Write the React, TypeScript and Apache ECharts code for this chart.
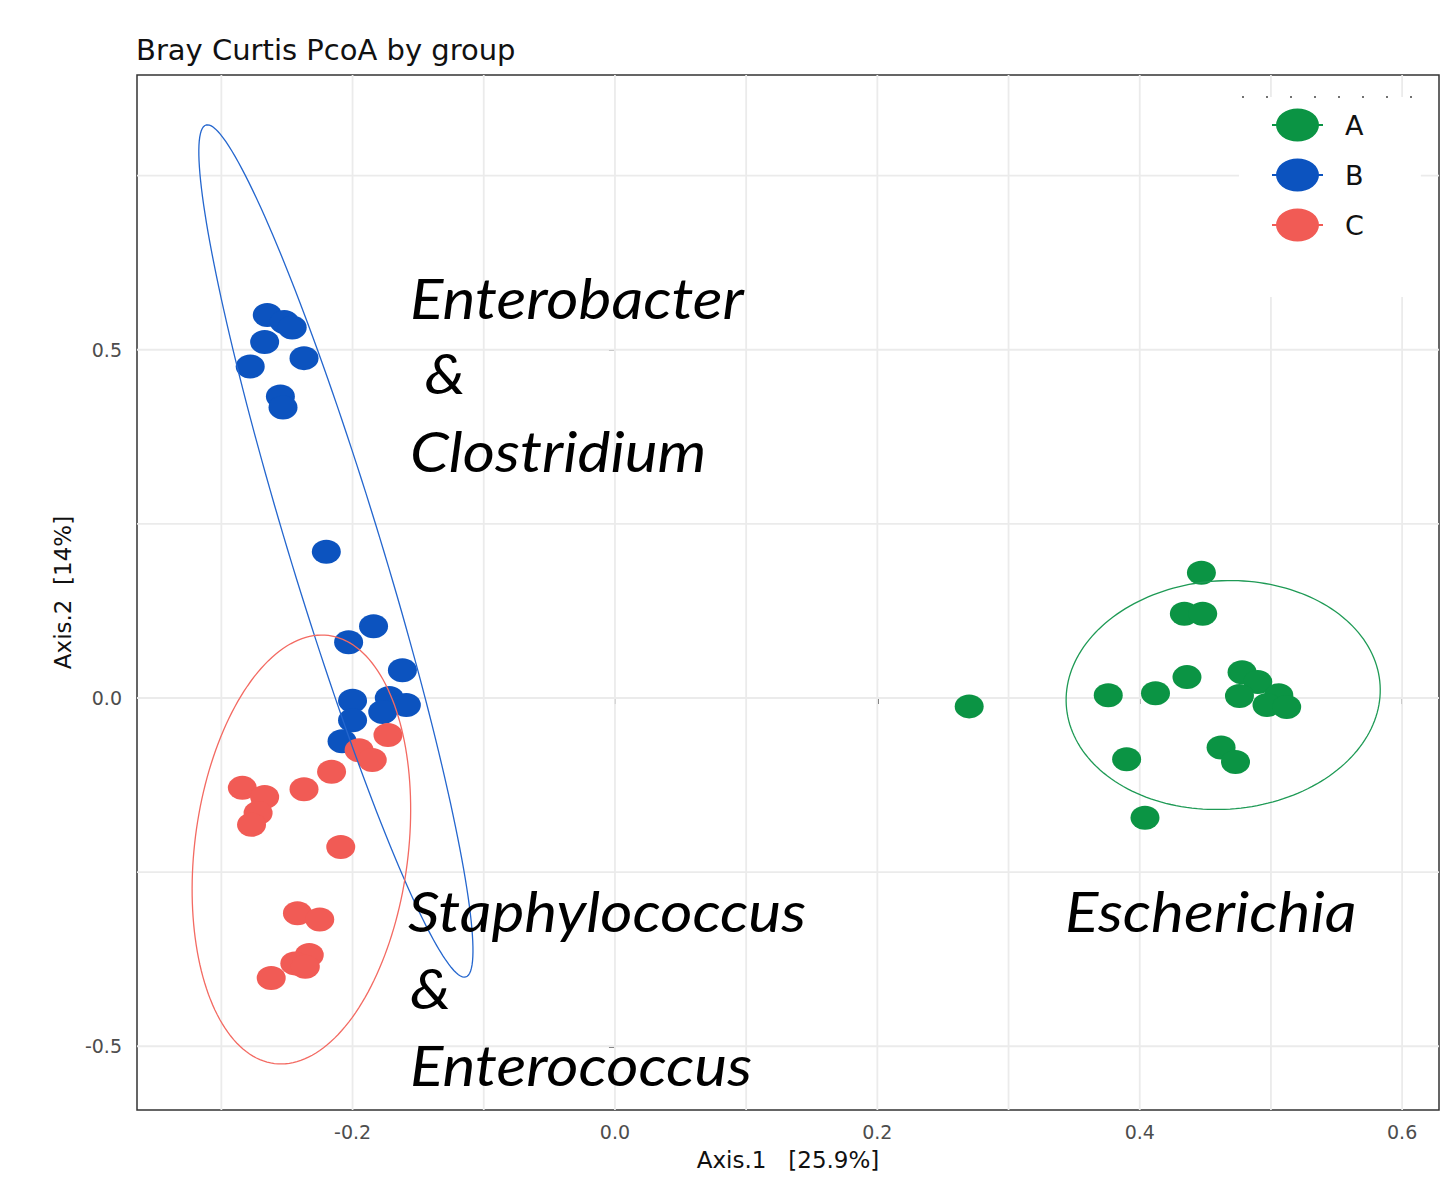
import React, { useEffect, useRef } from "react";
import * as echarts from "echarts";

// ---- data ----
const groupNames = ["A", "B", "C"];

const pointsA: number[][] = [
  [0.447, 0.18], [0.434, 0.121], [0.448, 0.121], [0.27, -0.012], [0.376, 0.004],
  [0.412, 0.007], [0.436, 0.03], [0.478, 0.037], [0.49, 0.023], [0.476, 0.003],
  [0.506, 0.004], [0.497, -0.01], [0.512, -0.013], [0.462, -0.071], [0.473, -0.092],
  [0.39, -0.088], [0.404, -0.172],
];

const pointsB: number[][] = [
  [-0.265, 0.55], [-0.252, 0.54], [-0.246, 0.532], [-0.267, 0.511], [-0.237, 0.488],
  [-0.278, 0.476], [-0.255, 0.433], [-0.253, 0.417], [-0.22, 0.21], [-0.184, 0.103],
  [-0.203, 0.08], [-0.162, 0.04], [-0.2, -0.004], [-0.2, -0.032], [-0.172, 0.0],
  [-0.159, -0.01], [-0.177, -0.02], [-0.208, -0.062],
];

const pointsC: number[][] = [
  [-0.173, -0.053], [-0.195, -0.075], [-0.185, -0.089], [-0.216, -0.106], [-0.237, -0.131],
  [-0.284, -0.129], [-0.267, -0.142], [-0.272, -0.165], [-0.277, -0.182], [-0.209, -0.214],
  [-0.242, -0.309], [-0.225, -0.318], [-0.233, -0.369], [-0.244, -0.381], [-0.236, -0.386],
  [-0.262, -0.402],
];

// ellipse: [centerX, centerY, semiAxis1X, semiAxis1Y, semiAxis2X, semiAxis2Y] (data units)
const ellipseA: number[] = [0.4636, 0.0043, 0.1196, 0.0144, 0.0053, -0.1637];
const ellipseB: number[] = [-0.2127, 0.2111, -0.099, 0.6116, 0.0334, 0.0192];
const ellipseC: number[] = [-0.239, -0.2175, 0.0206, 0.3073, 0.0807, -0.0192];

const xTickValues = [-0.2, 0.0, 0.2, 0.4, 0.6];
const yTickValues = [-0.5, 0.0, 0.5];
const xGridValues = [-0.3, -0.2, -0.1, 0.0, 0.1, 0.2, 0.3, 0.4, 0.5, 0.6];
const yGridValues = [-0.5, -0.25, 0.0, 0.25, 0.5, 0.75];

const xRange = [-0.3643, 0.6281];
const yRange = [-0.5915, 0.8945];

const titleText = "Bray Curtis PcoA by group";
const xTitle = "Axis.1   [25.9%]";
const yTitle = "Axis.2  [14%]";

const annotations = [
  { text: "Enterobacter", x: 410, y: 298 },
  { text: " &", x: 410, y: 373 },
  { text: "Clostridium", x: 410, y: 451 },
  { text: "Staphylococcus", x: 408, y: 911 },
  { text: "&", x: 410, y: 988 },
  { text: "Enterococcus", x: 410, y: 1065 },
  { text: "Escherichia", x: 1065, y: 911 },
];

const pointColors = ["#0B9444", "#0C53BF", "#F15B55"];
const ellipseColors = ["#1E9A55", "#2466CE", "#F36A62"];

const pointSymbol = "path://M0,12A14.5,12 0 1,1 29,12A14.5,12 0 1,1 0,12Z";
const legendIcon =
  "path://M0,15.5L51,15.5L51,17.5L0,17.5Z M4,16.5A21.5,16.5 0 1,1 47,16.5A21.5,16.5 0 1,1 4,16.5Z";

function ellipseSeries(name: string, e: number[], color: string) {
  return {
    name: name + "-ellipse",
    type: "custom",
    z: 3,
    silent: true,
    data: [e],
    renderItem: (params: any, api: any) => {
      const cx = api.value(0), cy = api.value(1);
      const ax = api.value(2), ay = api.value(3);
      const bx = api.value(4), by = api.value(5);
      const pts: number[][] = [];
      const n = 180;
      for (let i = 0; i < n; i++) {
        const t = (i / n) * Math.PI * 2;
        const c = Math.cos(t), s = Math.sin(t);
        pts.push(api.coord([cx + ax * c + bx * s, cy + ay * c + by * s]));
      }
      return {
        type: "polygon",
        shape: { points: pts },
        style: { fill: "none", stroke: color, lineWidth: 1.3 },
      };
    },
  };
}

export default function App() {
  const ref = useRef<HTMLDivElement>(null);

  useEffect(() => {
    if (!ref.current) return;
    const chart = echarts.init(ref.current, undefined, { renderer: "svg" });
    const pointSets = [pointsA, pointsB, pointsC];
    const ellipses = [ellipseA, ellipseB, ellipseC];

    const option: any = {
      animation: false,
      backgroundColor: "#ffffff",
      title: {
        text: titleText,
        left: 136,
        top: 33,
        padding: 0,
        textStyle: {
          fontFamily: "DejaVu Sans",
          fontWeight: "normal",
          fontSize: 29,
          lineHeight: 34,
          color: "#111",
        },
      },
      grid: {
        left: 137,
        top: 75,
        width: 1302,
        height: 1035,
        show: true,
        borderColor: "#333",
        borderWidth: 1.5,
        backgroundColor: "#fff",
        containLabel: false,
      },
      legend: {
        left: 1239,
        top: 97,
        orient: "vertical",
        padding: [11.5, 57, 55.5, 33],
        backgroundColor: "#ffffff",
        itemWidth: 51,
        itemHeight: 33,
        itemGap: 17,
        z: 20,
        data: groupNames.map((g) => ({ name: g, icon: legendIcon })),
        textStyle: {
          fontFamily: "DejaVu Sans",
          fontSize: 27,
          color: "#111",
          padding: [0, 0, 0, 17],
        },
      },
      xAxis: {
        type: "value",
        min: xRange[0],
        max: xRange[1],
        splitLine: { show: false },
        axisLine: { show: false },
        axisTick: {
          show: true,
          customValues: xTickValues,
          length: 6,
          lineStyle: { color: "#333", width: 1.5 },
        },
        axisLabel: {
          customValues: xTickValues,
          formatter: (v: number) => v.toFixed(1),
          fontFamily: "DejaVu Sans",
          fontSize: 19,
          color: "#4d4d4d",
          margin: 12,
        },
        name: xTitle,
        nameLocation: "middle",
        nameGap: 38,
        nameTextStyle: {
          fontFamily: "DejaVu Sans",
          fontSize: 23,
          color: "#111",
        },
      },
      yAxis: {
        type: "value",
        min: yRange[0],
        max: yRange[1],
        splitLine: { show: false },
        axisLine: { show: false },
        axisTick: {
          show: true,
          customValues: yTickValues,
          length: 6,
          lineStyle: { color: "#333", width: 1.5 },
        },
        axisLabel: {
          customValues: yTickValues,
          formatter: (v: number) => v.toFixed(1),
          fontFamily: "DejaVu Sans",
          fontSize: 19,
          color: "#4d4d4d",
          margin: 15,
        },
        name: yTitle,
        nameLocation: "middle",
        nameGap: 60,
        nameTextStyle: {
          fontFamily: "DejaVu Sans",
          fontSize: 23,
          color: "#111",
        },
      },
      series: [
        {
          name: "gridlines",
          type: "custom",
          z: 1,
          silent: true,
          data: [[0, 0]],
          renderItem: (params: any, api: any) => {
            const cs = params.coordSys;
            const children: any[] = [];
            xGridValues.forEach((v) => {
              const p = api.coord([v, 0]);
              children.push({
                type: "line",
                shape: { x1: p[0], y1: cs.y, x2: p[0], y2: cs.y + cs.height },
                style: { stroke: "#EBEBEB", lineWidth: 1.8 },
              });
            });
            yGridValues.forEach((v) => {
              const p = api.coord([0, v]);
              children.push({
                type: "line",
                shape: { x1: cs.x, y1: p[1], x2: cs.x + cs.width, y2: p[1] },
                style: { stroke: "#EBEBEB", lineWidth: 1.8 },
              });
            });
            return { type: "group", children };
          },
        },
        ...groupNames.map((g, i) => ({
          name: g,
          type: "scatter",
          z: 2,
          symbol: pointSymbol,
          symbolSize: [29, 24],
          itemStyle: { color: pointColors[i], opacity: 1 },
          data: pointSets[i],
        })),
        ...groupNames.map((g, i) => ellipseSeries(g, ellipses[i], ellipseColors[i])),
      ],
      graphic: [
        {
          type: "line",
          z: 30,
          silent: true,
          shape: { x1: 1242, y1: 97, x2: 1416, y2: 97 },
          style: { stroke: "#444", lineWidth: 1.5, lineDash: [2, 22] },
        },
        ...annotations.map((a) => ({
          type: "text",
          x: a.x,
          y: a.y,
          scaleX: 1.11,
          z: 40,
          silent: true,
          style: {
            text: a.text,
            fontFamily: "Lato",
            fontStyle: "italic",
            fontSize: 56,
            fill: "#000",
            align: "left",
            verticalAlign: "middle",
          },
        })),
      ],
    };

    chart.setOption(option);
    return () => chart.dispose();
  }, []);

  return (
    <div
      ref={ref}
      style={{ position: "absolute", left: 0, top: 0, width: 1442, height: 1188 }}
    />
  );
}
